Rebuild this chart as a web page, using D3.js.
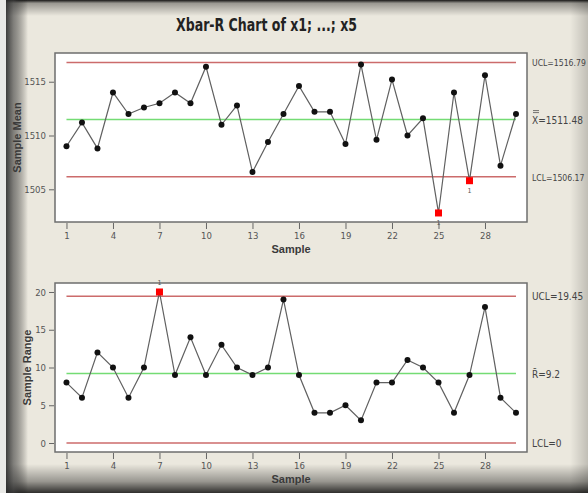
<!DOCTYPE html>
<html>
<head>
<meta charset="utf-8">
<script src="https://cdn.jsdelivr.net/npm/d3@7.9.0/dist/d3.min.js"></script>
<style>
  body { margin: 0; background: #ebe8de; }
  svg { display: block; }
  .tick text { font-family: "DejaVu Sans Condensed", "Liberation Sans", sans-serif; font-size: 9.5px; fill: #555; }
  .tick line { stroke: #666; }
  .domain { display: none; }
</style>
</head>
<body>
<svg id="chart" width="588" height="493"></svg>
<script>
// sample numbers and the two series
const samples = [1, 2, 3, 4, 5, 6, 7, 8, 9, 10, 11, 12, 13, 14, 15, 16, 17, 18, 19, 20, 21, 22, 23, 24, 25, 26, 27, 28, 29, 30];
const means = [1509.0, 1511.2, 1508.8, 1514.0, 1512.0, 1512.6, 1513.0, 1514.0, 1513.0, 1516.4,
               1511.0, 1512.8, 1506.6, 1509.4, 1512.0, 1514.6, 1512.2, 1512.2, 1509.2, 1516.6,
               1509.6, 1515.2, 1510.0, 1511.6, 1502.8, 1514.0, 1505.8, 1515.6, 1507.2, 1512.0];
const ranges = [8, 6, 12, 10, 6, 10, 20, 9, 14, 9, 13, 10, 9, 10, 19, 9, 4, 4, 5, 3, 8, 8, 11, 10, 8, 4, 9, 18, 6, 4];

const sampleTicks = [1, 4, 7, 10, 13, 16, 19, 22, 25, 28];
const meanTicks = [1505, 1510, 1515];
const rangeTicks = [0, 5, 10, 15, 20];

// [UCL, centre, LCL]
const meanLimits = [1516.79, 1511.48, 1506.17];
const rangeLimits = [19.45, 9.2, 0];
const meanLimitLabels = ['UCL=1516.79', 'X=1511.48', 'LCL=1506.17'];
const rangeLimitLabels = ['UCL=19.45', 'R\u0304=9.2', 'LCL=0'];

// samples flagged as out of control (test 1)
const meanFlags = [25, 27];
const rangeFlags = [7];

const svg = d3.select('#chart');
const W = 588, H = 493;
const narrow = '"DejaVu Sans Condensed", "Liberation Sans", sans-serif';

// window background with the shadowed edges
let defs = svg.append('defs');
function grad(id, x1, y1, x2, y2, stops) {
  let g = defs.append('linearGradient').attr('id', id)
    .attr('x1', x1).attr('y1', y1).attr('x2', x2).attr('y2', y2);
  stops.forEach(s => g.append('stop').attr('offset', s[0]).attr('stop-color', s[1]).attr('stop-opacity', s[2]));
}
grad('gTop', 0, 0, 0, 1, [[0, '#000', 0.9], [0.2, '#000', 0.35], [1, '#000', 0]]);
grad('gLeft', 0, 0, 1, 0, [[0, '#2a2a2a', 0.9], [0.35, '#3a3a3a', 0.6], [1, '#000', 0]]);
grad('gBottom', 0, 0, 0, 1, [[0, '#000', 0], [0.6, '#000', 0.35], [1, '#000', 0.8]]);
grad('gRight', 0, 0, 1, 0, [[0, '#000', 0], [1, '#000', 0.18]]);

svg.append('rect').attr('width', W).attr('height', H).attr('fill', '#ebe8de');
svg.append('rect').attr('x', 0).attr('y', 0).attr('width', W).attr('height', 16).attr('fill', 'url(#gTop)');
svg.append('rect').attr('x', 0).attr('y', 464).attr('width', W).attr('height', 29).attr('fill', 'url(#gBottom)');
svg.append('rect').attr('x', 6).attr('y', 0).attr('width', 22).attr('height', H).attr('fill', 'url(#gLeft)');
svg.append('rect').attr('x', 0).attr('y', 0).attr('width', 6).attr('height', H).attr('fill', '#e9e9e6');
svg.append('rect').attr('x', 570).attr('y', 0).attr('width', 18).attr('height', H).attr('fill', 'url(#gRight)');

svg.append('text')
  .attr('x', 176).attr('y', 31)
  .attr('textLength', 181).attr('lengthAdjust', 'spacingAndGlyphs')
  .attr('font-family', narrow)
  .attr('font-weight', 'bold')
  .attr('font-size', 18)
  .attr('fill', '#222')
  .text('Xbar-R Chart of x1; ...; x5');

const x = d3.scaleLinear().domain([0.26, 30.71]).range([55, 527]);

function panel(opts) {
  const { top, bottom, domain, values, ticks, limits, labels, flags, yTitle, titleX, flagBelow } = opts;
  const y = d3.scaleLinear().domain(domain).range([bottom, top]);
  const g = svg.append('g');

  g.append('rect')
    .attr('x', 55).attr('y', top)
    .attr('width', 527 - 55).attr('height', bottom - top)
    .attr('fill', '#fff').attr('stroke', '#6e6e6e').attr('stroke-width', 1.5);

  g.append('g')
    .attr('transform', `translate(54,0)`)
    .call(d3.axisLeft(y).tickValues(ticks).tickSize(5).tickPadding(3).tickFormat(d3.format('d')));

  g.append('g')
    .attr('transform', `translate(0,${bottom + 1})`)
    .call(d3.axisBottom(x).tickValues(sampleTicks).tickSize(6).tickPadding(3));

  // control limits and centre line
  limits.forEach((v, i) => {
    g.append('line')
      .attr('x1', x(samples[0])).attr('x2', x(samples[samples.length - 1]))
      .attr('y1', y(v)).attr('y2', y(v))
      .attr('stroke', i === 1 ? '#74dc74' : '#cc6b6b')
      .attr('stroke-width', 1.5);
  });

  const line = d3.line().x((d, i) => x(samples[i])).y(d => y(d));
  g.append('path')
    .datum(values)
    .attr('d', line)
    .attr('fill', 'none')
    .attr('stroke', '#606060')
    .attr('stroke-width', 1.2);

  values.forEach((d, i) => {
    if (flags.includes(samples[i])) {
      g.append('rect')
        .attr('x', x(samples[i]) - 3.5).attr('y', y(d) - 3.5)
        .attr('width', 7).attr('height', 7)
        .attr('fill', '#f00');
      g.append('text')
        .attr('x', x(samples[i])).attr('y', y(d) + (flagBelow ? 12 : -7))
        .attr('text-anchor', 'middle')
        .attr('font-family', narrow).attr('font-size', 7).attr('fill', '#555')
        .text('1');
    } else {
      g.append('circle')
        .attr('cx', x(samples[i])).attr('cy', y(d)).attr('r', 3)
        .attr('fill', '#111');
    }
  });

  // limit labels on the right (the long ones a touch smaller so they fit)
  labels.forEach((t, i) => {
    g.append('text')
      .attr('x', 532).attr('y', y(limits[i]) + 4)
      .attr('font-family', narrow).attr('font-size', t.length > 10 ? 8.6 : 10).attr('fill', '#444')
      .text(t);
  });

  g.append('text')
    .attr('transform', `translate(${titleX},${(top + bottom) / 2}) rotate(-90)`)
    .attr('text-anchor', 'middle')
    .attr('font-family', '"Liberation Sans", Arial, sans-serif')
    .attr('font-weight', 'bold')
    .attr('font-size', 11).attr('fill', '#3a3a3a')
    .text(yTitle);

  g.append('text')
    .attr('x', 291).attr('y', bottom + 31)
    .attr('text-anchor', 'middle')
    .attr('font-family', '"Liberation Sans", Arial, sans-serif')
    .attr('font-weight', 'bold')
    .attr('font-size', 11).attr('fill', '#3a3a3a')
    .text('Sample');

  return y;
}

const yMean = panel({
  top: 53, bottom: 222, domain: [1501.96, 1517.67], values: means, ticks: meanTicks,
  limits: meanLimits, labels: meanLimitLabels, flags: meanFlags,
  yTitle: 'Sample Mean', titleX: 21, flagBelow: true
});

// double bar over the X of the grand mean label
[-9, -7].forEach(dy => {
  svg.append('line')
    .attr('x1', 533).attr('x2', 539)
    .attr('y1', yMean(meanLimits[1]) + dy).attr('y2', yMean(meanLimits[1]) + dy)
    .attr('stroke', '#555').attr('stroke-width', 0.8);
});

panel({
  top: 283, bottom: 452, domain: [-1.19, 21.19], values: ranges, ticks: rangeTicks,
  limits: rangeLimits, labels: rangeLimitLabels, flags: rangeFlags,
  yTitle: 'Sample Range', titleX: 31, flagBelow: false
});
</script>
</body>
</html>
